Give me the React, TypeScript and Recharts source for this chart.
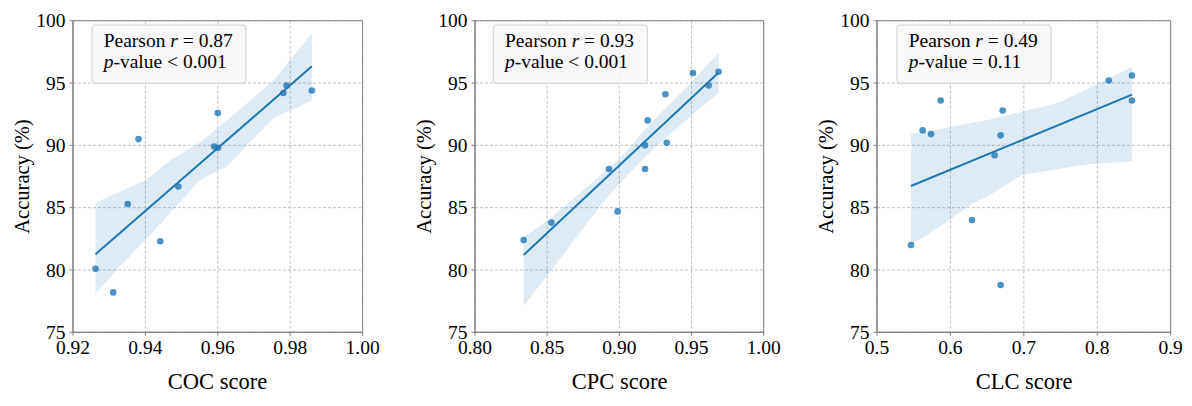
import { ComposedChart, Scatter, Line, Area, XAxis, YAxis, ZAxis, CartesianGrid, ReferenceArea } from 'recharts';

const FONT = '"Liberation Serif", "Times New Roman", serif';
const BLUE = '#1f77b4';

// COC panel
const cocScore = [0.9262, 0.9311, 0.9351, 0.9381, 0.9441, 0.9491, 0.959, 0.9601, 0.96, 0.9781, 0.979, 0.986];
const cocAcc = [80.1, 78.2, 85.3, 90.5, 82.3, 86.7, 89.9, 89.8, 92.6, 94.2, 94.8, 94.4];
const cocBandX = [0.9262, 0.933, 0.94, 0.9469, 0.955, 0.9625, 0.969, 0.9754, 0.986];
const cocBandLo = [78.1, 80.3, 82.4, 84.6, 87.2, 88.3, 90.3, 92.2, 93.6];
const cocBandHi = [85.4, 86.3, 87.2, 88.8, 90.2, 92.0, 93.6, 95.2, 99.0];
const cocFit = [81.26, 96.34];
const cocTicks = [0.92, 0.94, 0.96, 0.98, 1.0];

// CPC panel
const cpcScore = [0.8337, 0.8529, 0.8928, 0.8988, 0.9178, 0.9178, 0.9196, 0.9319, 0.9328, 0.951, 0.9619, 0.9688];
const cpcAcc = [82.4, 83.8, 88.1, 84.7, 90.0, 88.1, 92.0, 94.1, 90.2, 95.8, 94.8, 95.9];
const cpcBandX = [0.8337, 0.8517, 0.87, 0.89, 0.905, 0.92, 0.94, 0.955, 0.9688];
const cpcBandLo = [77.1, 79.8, 82.6, 85.6, 87.5, 89.3, 91.4, 92.9, 94.2];
const cpcBandHi = [82.6, 84.1, 85.9, 87.9, 89.5, 91.6, 93.9, 95.7, 97.4];
const cpcFit = [81.2, 95.85];
const cpcTicks = [0.8, 0.85, 0.9, 0.95, 1.0];

// CLC panel
const clcScore = [0.5463, 0.5622, 0.5736, 0.5867, 0.6294, 0.6603, 0.6684, 0.6712, 0.6684, 0.8156, 0.8473, 0.8473];
const clcAcc = [82.0, 91.2, 90.9, 93.6, 84.0, 89.2, 90.8, 92.8, 78.8, 95.2, 95.6, 93.6];
const clcBandX = [0.5463, 0.5836, 0.629, 0.656, 0.697, 0.747, 0.792, 0.8473];
const clcBandLo = [82.0, 83.4, 85.3, 86.1, 87.6, 88.1, 88.5, 88.7];
const clcBandHi = [90.9, 91.3, 91.8, 92.1, 92.7, 93.4, 94.7, 96.3];
const clcFit = [86.74, 94.07];
const clcTicks = [0.5, 0.6, 0.7, 0.8, 0.9];

const accTicks = [75, 80, 85, 90, 95, 100];
const pearsonR = ['0.87', '0.93', '0.49'];
const pValues = ['< 0.001', '< 0.001', '= 0.11'];
const xTitles = ['COC score', 'CPC score', 'CLC score'];

const TOP = 20.7;
const BOTTOM = 332.3;
const AXIS_W = 60;
const XAXIS_H = 30;
const RIGHT_PAD = 24;

const panels = [
  { xs: cocScore, ys: cocAcc, bx: cocBandX, lo: cocBandLo, hi: cocBandHi, fit: cocFit, ticks: cocTicks, digits: 2, left: 72.7, width: 289.6, boxLeft: 92 },
  { xs: cpcScore, ys: cpcAcc, bx: cpcBandX, lo: cpcBandLo, hi: cpcBandHi, fit: cpcFit, ticks: cpcTicks, digits: 2, left: 475.3, width: 288.7, boxLeft: 493.3 },
  { xs: clcScore, ys: clcAcc, bx: clcBandX, lo: clcBandLo, hi: clcBandHi, fit: clcFit, ticks: clcTicks, digits: 1, left: 877.3, width: 293.7, boxLeft: 897 },
];

const makeXTick = (digits: number) => (props: any) => {
  const { x, y, payload } = props;
  return (
    <text x={x} y={y} dy="0.71em" textAnchor="middle" fontSize={19.5} fontFamily={FONT} fill="#000">
      {Number(payload.value).toFixed(digits)}
    </text>
  );
};

const YTick = (props: any) => {
  const { x, y, payload } = props;
  return (
    <text x={x} y={y} dy="0.34em" textAnchor="end" fontSize={19.5} fontFamily={FONT} fill="#000">
      {payload.value}
    </text>
  );
};

function Panel({ p }: { p: (typeof panels)[number] }) {
  const points = p.xs.map((x, i) => ({ x, y: p.ys[i] }));
  const rows = p.bx.map((x, i) => ({
    x,
    band: [p.lo[i], p.hi[i]],
    fit: i === 0 ? p.fit[0] : i === p.bx.length - 1 ? p.fit[1] : undefined,
  }));
  const xMin = p.ticks[0];
  const xMax = p.ticks[p.ticks.length - 1];
  return (
    <div style={{ position: 'absolute', left: p.left - AXIS_W, top: 0 }}>
      <ComposedChart
        width={p.width + AXIS_W + RIGHT_PAD}
        height={406}
        data={rows}
        margin={{ top: TOP, right: RIGHT_PAD, left: 0, bottom: 406 - BOTTOM - XAXIS_H }}
      >
        <CartesianGrid stroke="#b0b0b0" strokeDasharray="3 2" strokeWidth={0.8} />
        <XAxis
          type="number"
          dataKey="x"
          domain={[xMin, xMax]}
          ticks={p.ticks}
          allowDataOverflow
          height={XAXIS_H}
          tick={makeXTick(p.digits)}
          tickSize={3.5}
          tickMargin={4}
          axisLine={{ stroke: '#808080' }}
          tickLine={{ stroke: '#808080' }}
        />
        <YAxis
          type="number"
          domain={[75, 100]}
          ticks={accTicks}
          allowDataOverflow
          width={AXIS_W}
          tick={YTick}
          tickSize={3.5}
          tickMargin={4}
          axisLine={{ stroke: '#808080' }}
          tickLine={{ stroke: '#808080' }}
        />
        <ZAxis range={[34, 34]} />
        <Scatter data={points} dataKey="y" fill={BLUE} fillOpacity={0.8} isAnimationActive={false} />
        <Area
          type="linear"
          dataKey="band"
          stroke="none"
          fill={BLUE}
          fillOpacity={0.15}
          isAnimationActive={false}
        />
        <Line
          type="linear"
          dataKey="fit"
          stroke={BLUE}
          strokeWidth={2}
          dot={false}
          connectNulls
          isAnimationActive={false}
        />
        <ReferenceArea x1={xMin} x2={xMax} y1={75} y2={100} fill="none" stroke="#808080" strokeWidth={1} />
      </ComposedChart>
    </div>
  );
}

export default function App() {
  return (
    <div style={{ position: 'absolute', left: 0, top: 0, width: 1192, height: 406, background: '#fff', fontFamily: FONT, overflow: 'hidden' }}>
      {panels.map((p, i) => (
        <Panel key={i} p={p} />
      ))}
      <svg width={1192} height={406} style={{ position: 'absolute', left: 0, top: 0, pointerEvents: 'none' }}>
        {panels.map((p, i) => (
          <g key={i} fontFamily={FONT} fill="#000">
            <text
              x={p.left - 51}
              y={(TOP + BOTTOM) / 2}
              fontSize={20.5}
              textAnchor="middle"
              dominantBaseline="central"
              transform={`rotate(-90 ${p.left - 51} ${(TOP + BOTTOM) / 2})`}
            >
              Accuracy (%)
            </text>
            <text x={p.left + p.width / 2} y={388.5} fontSize={22.5} textAnchor="middle">
              {xTitles[i]}
            </text>
            <rect
              x={p.boxLeft}
              y={25}
              width={154}
              height={58.3}
              rx={3}
              fill="#f7f7f7"
              fillOpacity={0.85}
              stroke="#d0d0d0"
              strokeWidth={1}
            />
            <text x={p.boxLeft + 11.7} y={46.7} fontSize={19.5}>
              {'Pearson '}
              <tspan fontStyle="italic">r</tspan>
              {' = ' + pearsonR[i]}
            </text>
            <text x={p.boxLeft + 11.7} y={68.3} fontSize={19.5}>
              <tspan fontStyle="italic">p</tspan>
              {'-value ' + pValues[i]}
            </text>
          </g>
        ))}
      </svg>
    </div>
  );
}
